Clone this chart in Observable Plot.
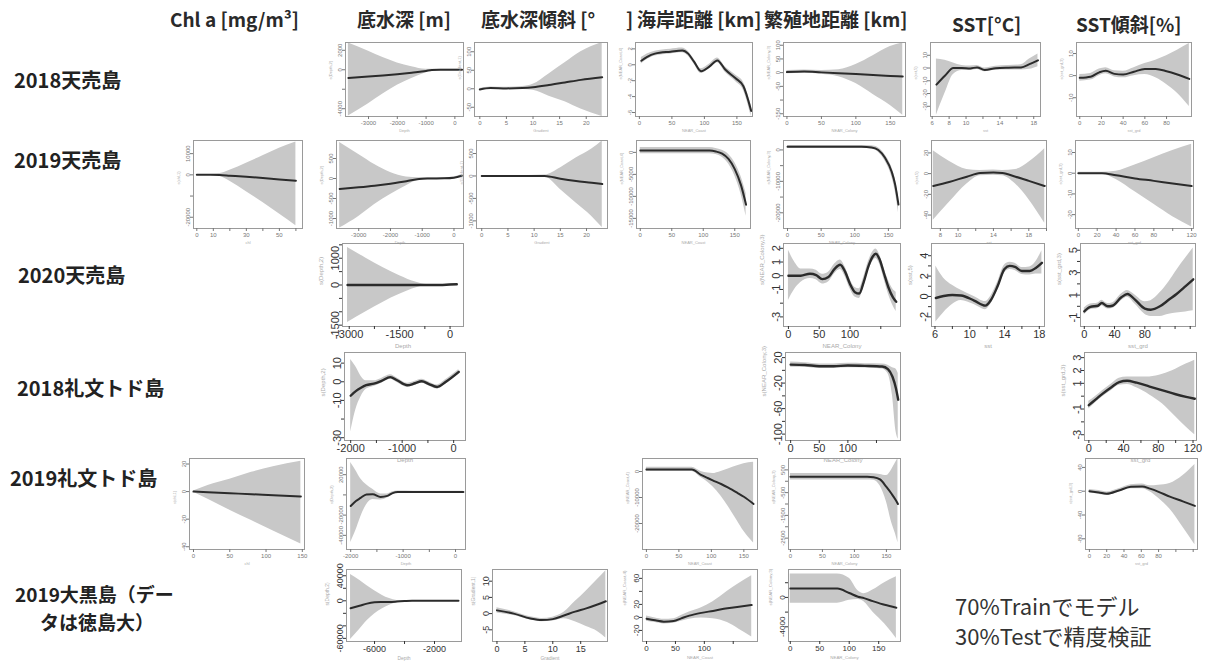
<!DOCTYPE html>
<html><head><meta charset="utf-8">
<script src="https://cdn.jsdelivr.net/npm/d3@7"></script>
<script src="https://cdn.jsdelivr.net/npm/@observablehq/plot@0.6"></script>
<style>
body{margin:0;background:#fff;}
#root{position:relative;width:1205px;height:662px;overflow:hidden;background:#fff;font-family:"Noto Sans CJK JP","Noto Sans",sans-serif;}
.t{position:absolute;white-space:nowrap;color:#222;line-height:1;}
.col{font-size:19px;font-weight:600;color:#2a2a2a;}
.row{font-size:20px;font-weight:700;}
.row2{font-size:19px;font-weight:700;}
.note{font-size:22px;color:#333;font-weight:400;}
</style></head><body><div id="root"></div>
<script>
// ---------- data: rows are [x, fit, lower, upper] ----------
const t18_depth = [[-3700,-850,-4750,2750],[-3000,-700,-3500,1900],[-2500,-580,-2500,1250],[-2000,-450,-1600,700],[-1500,-300,-900,300],[-1000,-130,-300,40],[-800,-20,-80,40],[-500,0,-40,40],[0,0,-40,40],[250,10,-40,60]];
const t18_slope = [[0,-2,-5,1],[2,2,-1,5],[5,1,-2,4],[8,2,-2,6],[10,4,-4,12],[13,10,-20,40],[16,17,-35,70],[19,24,-55,100],[23,31,-75,125]];
const t18_coast = [[3,0.5,0.1,0.9],[12,1.0,0.65,1.35],[24,1.4,1.1,1.7],[48,1.65,1.35,1.95],[66,1.8,1.5,2.1],[75,1.4,1.1,1.7],[84,0.4,0.1,0.7],[95,-0.8,-1.1,-0.5],[108,-0.2,-0.5,0.1],[120,0.55,0.25,0.85],[132,-0.6,-0.95,-0.25],[148,-1.7,-2.1,-1.3],[160,-2.7,-3.2,-2.2],[172,-5.8,-6.5,-5.1]];
const t18_colony = [[0,2,-4,8],[25,4,-2,10],[50,1,-6,8],[75,-2,-15,11],[100,-5,-40,30],[125,-9,-80,62],[150,-12,-120,95],[168,-14,-155,108]];
const t18_sst = [[6.5,-13,-37,7],[7.5,-6,-20,6],[8.5,0,-5,4],[9.5,0,-2,2],[10.5,-0.3,-2,1.5],[11.3,0.5,-1.2,2],[12.2,-1.5,-3,0],[13.5,-0.2,-1.8,1.4],[15,0.3,-1.5,2],[16.5,0.5,-1.5,2.5],[17.5,3,-1,7],[18.5,6,1,11]];
const t18_sstg = [[0,-1,-2.5,0.5],[10,-0.5,-2,1],[18,1.5,0,3],[24,2.2,0.8,3.6],[32,0.8,-0.6,2.2],[40,0.5,-1,2],[50,1.8,0,3.6],[60,3,0.5,5.5],[70,3,-1,7],[80,2,-4,9],[90,0.5,-8,11.5],[101,-1.5,-14,14.5]];

const t19_chl = [[0,0,-150,150],[8,0,-200,200],[14,-100,-800,600],[20,-400,-3000,2200],[30,-900,-8000,5500],[40,-1500,-13000,9000],[50,-2200,-18500,12500],[60,-2800,-24000,15500]];
const t19_depth = [[-3600,-260,-1240,900],[-3000,-220,-950,600],[-2500,-180,-650,350],[-2000,-130,-400,150],[-1500,-70,-180,40],[-1100,-10,-40,20],[-800,0,-20,20],[-300,5,-15,25],[0,20,0,40],[250,70,40,100]];
const t19_slope = [[0,0,-10,10],[5,-3,-12,6],[9,2,-8,12],[12,0,-20,20],[15,-60,-300,180],[18,-110,-600,400],[21,-150,-900,600],[23,-180,-1150,780]];
const t19_coast = [[0,400,-300,1100],[40,400,-300,1100],[80,400,-300,1100],[110,400,-300,1100],[120,200,-500,900],[130,-300,-1100,500],[140,-1500,-2600,-400],[150,-3800,-5300,-2300],[160,-7500,-9500,-5500],[168,-11900,-14500,-9300]];
const t19_colony = [[0,1000,600,1400],[60,1000,600,1400],[110,1000,600,1400],[125,800,300,1300],[135,0,-700,700],[145,-2500,-3500,-1500],[155,-7000,-8500,-5500],[160,-11000,-13000,-9000],[165,-17400,-20000,-14800]];
const t19_sst = [[7.2,-12,-45,22],[9,-8,-28,12],[11,-3,-10,4],[12.5,0.5,-2,3],[14,1,-1.5,3.5],[15,0.5,-2,3],[16.5,-3,-10,4],[18,-7,-25,11],[19.8,-12,-48,24]];
const t19_sstg = [[0,0,-0.5,0.5],[25,0,-0.5,0.5],[40,-1,-3,1],[60,-2.5,-9,4],[80,-3.7,-15,7.5],[100,-5,-21,11],[120,-6.2,-26,14]];

const t20_depth = [[-3050,0,-1400,1400],[-2500,0,-1000,1000],[-2000,0,-650,650],[-1500,0,-350,350],[-1000,0,-100,100],[-700,0,-20,20],[-300,0,-15,15],[0,20,0,40],[200,30,10,50]];
const t20_colony = [[0,0,-1.8,1.85],[10,0,-1.0,1.0],[20,0,-0.5,0.5],[35,0.15,-0.2,0.5],[45,0.05,-0.3,0.4],[55,-0.25,-0.6,0.1],[65,-0.1,-0.45,0.25],[75,0.5,0.15,0.85],[84,0.8,0.45,1.15],[92,0.3,-0.05,0.65],[100,-0.6,-0.95,-0.25],[108,-1.2,-1.55,-0.85],[115,-1.3,-1.65,-0.95],[122,-0.5,-0.85,-0.15],[130,0.7,0.35,1.05],[137,1.4,1.05,1.75],[142,1.6,1.25,1.95],[148,1.2,0.85,1.55],[155,0.2,-0.2,0.6],[162,-0.8,-1.3,-0.3],[170,-1.6,-2.2,-1.0],[175,-1.9,-2.6,-1.2]];
const t20_sst = [[6.1,-0.15,-2.5,3.0],[7,0.05,-1.6,1.8],[8,0.15,-0.8,1.1],[9,0.1,-0.4,0.6],[10.5,-0.4,-0.8,0],[11.8,-0.9,-1.3,-0.5],[12.4,-0.4,-0.8,0],[13.2,1.0,0.6,1.4],[14,2.7,2.3,3.1],[14.6,3.0,2.65,3.35],[15.2,2.9,2.55,3.25],[16,2.5,2.15,2.85],[16.9,2.5,2.1,2.9],[17.6,2.8,2.2,3.4],[18.3,3.3,2.2,4.5]];
const t20_sstg = [[0,-0.45,-0.75,-0.15],[8,-0.05,-0.3,0.2],[18,0.05,-0.2,0.3],[23,0.3,0.05,0.55],[31,0,-0.25,0.25],[37,0.05,-0.2,0.3],[49,0.8,0.5,1.1],[57,1.1,0.8,1.4],[67,0.6,0.2,1.0],[80,-0.2,-0.7,0.4],[88,-0.3,-0.9,0.5],[100,0,-0.9,1.2],[112,0.6,-0.7,2.2],[122,1.1,-0.6,3.2],[134,1.8,-0.5,4.3],[144,2.4,-0.4,5.2]];

const r18_depth = [[-2000,-7.5,-27,12],[-1900,-5,-15,8],[-1800,-3.2,-8,3],[-1700,-1.8,-4,0.5],[-1550,-1,-2.5,0.5],[-1400,0.5,-0.8,1.8],[-1230,2.5,1.3,3.7],[-1100,0.8,-0.4,2],[-900,-1.9,-3,-0.8],[-750,-0.8,-1.9,0.3],[-620,0.3,-0.8,1.4],[-480,-1.2,-2.3,-0.1],[-320,-2.8,-3.9,-1.7],[-150,0,-1.2,1.2],[100,5.3,4,6.6]];
const r18_colony = [[0,9,5,13],[25,8.5,5,12],[50,6.5,3,10],[75,6.5,3,10],[100,7.5,4,11],[130,7,3.5,10.5],[160,6,2,10],[170,2,-5,8],[178,-10,-40,4],[184,-28,-95,2],[188,-46,-108,-5]];
const r18_sstg = [[0,-0.7,-1.0,-0.4],[8,-0.25,-0.5,0],[16,0.2,-0.05,0.45],[26,0.7,0.45,0.95],[35,1.1,0.85,1.4],[44,1.2,0.9,1.5],[55,1.05,0.65,1.5],[70,0.75,0.1,1.5],[85,0.45,-0.6,1.7],[100,0.15,-1.6,2.1],[112,-0.05,-2.4,2.5],[122,-0.2,-3.0,2.8]];

const r19_chl = [[0,0,-0.5,0.5],[20,-0.5,-5.5,4.5],[50,-1.2,-13.5,9],[80,-1.9,-21,14],[110,-2.7,-28.5,18],[148,-3.6,-38,22]];
const r19_depth = [[-2000,-11000,-47000,32000],[-1900,-6000,-35000,24000],[-1810,-3000,-22000,16000],[-1700,500,-10000,10000],[-1580,700,-4500,5500],[-1430,-2000,-5000,1000],[-1300,-1000,-3000,1000],[-1200,1800,500,3100],[-1100,2800,1800,3800],[-800,2800,1900,3700],[-400,2800,1900,3700],[0,2800,1900,3700],[150,2800,1900,3700]];
const r19_coast = [[0,800,0,1600],[40,800,0,1600],[70,800,0,1600],[84,-1300,-2300,0],[95,-2600,-4200,-600],[102,-3400,-5800,-800],[115,-4800,-9500,0],[126,-6200,-13500,1000],[140,-8200,-19000,2200],[150,-9700,-23000,3000],[165,-12500,-27500,3600]];
const r19_colony = [[0,200,60,340],[60,200,60,340],[120,200,60,340],[130,180,40,330],[140,80,-200,300],[150,-250,-900,250],[158,-550,-1800,500],[164,-800,-2300,800],[168,-1000,-2700,1000]];
const r19_sstg = [[0,0,-3,3],[11,-2,-5,1],[20,-4.3,-7.3,-1.3],[34,1.2,-1.8,4.2],[48,7.4,4,10.8],[61,8,4,12],[70,4.3,-1,9],[80,-1,-12,10],[93,-9.2,-30,13],[108,-17,-60,26],[122,-24.6,-90,45]];

const o19_depth = [[-7600,-12000,-62000,42000],[-7000,-8000,-46000,33000],[-6500,-4500,-32000,24000],[-6000,-2500,-21000,16000],[-5500,-2000,-13000,9000],[-5000,-1800,-7000,3500],[-4500,-1200,-3000,600],[-4000,-500,-1000,0],[-3500,0,-400,400],[-2500,0,-400,400],[-1000,0,-400,400],[-400,0,-400,400]];
const o19_slope = [[0,1,0.2,1.8],[3,0,-0.6,0.6],[6,-1.5,-2,-1],[8,-2,-2.5,-1.5],[10,-1.7,-2.3,-1.1],[12,-0.6,-1.6,0.4],[14,0.6,-2.5,3.7],[16,1.6,-4,7],[18,2.8,-5.5,10.5],[19.5,3.8,-7.5,13.2]];
const o19_coast = [[0,-2,-6,2],[15,-4.5,-8,-1],[30,-6.5,-10,-3],[47,-5.5,-9,-2],[60,-1.5,-6,3],[74,2.7,-3,8.5],[95,7,-1,15],[115,10,-2,24],[140,14,-8,40],[160,16.5,-18,52],[182,19,-30,64]];
const o19_colony = [[0,1200,-800,3200],[40,1200,-800,3200],[80,1200,-800,3200],[100,600,-400,2600],[115,100,-300,900],[125,-100,-600,500],[140,-500,-2000,1000],[160,-1000,-3600,2000],[180,-1400,-5600,2800]];

// ---------- text ----------
const colTitles = [
  ["Chl a [mg/m³]",170,9],["底水深 [m]",357,9],["底水深傾斜 [°",481,9],["]",626,9],
  ["海岸距離 [km]",637,9],["繁殖地距離 [km]",764,9],["SST[°C]",952,14],["SST傾斜[%]",1076,14]
];
const rowTitles = [
  ["2018天売島",14,70],["2019天売島",14,150],["2020天売島",18,265],["2018礼文トド島",17,378],
  ["2019礼文トド島",10,468]
];
const rowTitles2 = [["2019大黒島（デー",15,584],["タは徳島大）",40,612]];
const notes = [["70%Trainでモデル",955,594],["30%Testで精度検証",955,624]];

// variable names (axis titles)
const VAR = {
  chl:["chl","s(chl,1)"], depth:["Depth","s(Depth,2)"], slope:["Gradient","s(Gradient,1)"],
  coast:["NEAR_Coast","s(NEAR_Coast,4)"], colony:["NEAR_Colony","s(NEAR_Colony,3)"],
  sst:["sst","s(sst,5)"], sstg:["sst_grd","s(sst_grd,3)"]
};

// ---------- panel layout ----------
const R1=[42,116], R2=[140,228], R3=[243,326], R4=[352,440], R5=[458,549], R6=[569,641];
const panels = [
  {d:t18_depth, v:"depth", x:[345,463], y:R1, fs:6, xd:[-3800,300], yd:[-4800,2800], xt:[-3000,-2000,-1000,0], yt:[2000,0,-2000,-4000], yl:[2000,0,-4000]},
  {d:t18_slope, v:"slope", x:[474,607], y:R1, fs:6, xd:[-1,24], yd:[-75,125], xt:[0,5,10,15,20], yt:[100,50,0,-50]},
  {d:t18_coast, v:"coast", x:[635,752], y:R1, fs:6, xd:[-6,174], yd:[-6.5,2.8], xt:[0,50,100,150], yt:[2,0,-2,-4,-6]},
  {d:t18_colony, v:"colony", x:[783,905], y:R1, fs:6, xd:[-5,172], yd:[-160,110], xt:[0,50,100,150], yt:[100,50,0,-50,-100,-150], yl:[100,50,0,-50,-150]},
  {d:t18_sst, v:"sst", x:[930,1040], y:R1, fs:6, xd:[5.8,18.8], yd:[-38,20], xt:[6,8,10,12,14,16,18], xl:[6,8,10,14,18], yt:[10,0,-10,-20,-30]},
  {d:t18_sstg, v:"sstg", x:[1076,1191], y:R1, fs:6, xd:[-3,103], yd:[-18.5,15], xt:[0,20,40,60,80], yt:[10,0,-10]},

  {d:t19_chl, v:"chl", x:[193,302], y:R2, fs:6, xd:[-2,64], yd:[-25300,16200], xt:[0,10,20,30,40,50,60], xl:[0,10,30,50], yt:[10000,0,-10000,-20000], yl:[10000,0,-20000]},
  {d:t19_depth, v:"depth", x:[336,463], y:R2, fs:6, xd:[-3700,300], yd:[-1250,950], xt:[-3000,-2000,-1000,0], yt:[500,0,-500,-1000]},
  {d:t19_slope, v:"slope", x:[476,607], y:R2, fs:6, xd:[-1,24], yd:[-1170,790], xt:[0,5,10,15,20], yt:[500,0,-500,-1000]},
  {d:t19_coast, v:"coast", x:[636,750], y:R2, fs:6, xd:[-6,175], yd:[-17300,2700], xt:[0,50,100,150], yt:[0,-5000,-10000,-15000]},
  {d:t19_colony, v:"colony", x:[783,900], y:R2, fs:6, xd:[-6,168], yd:[-25000,3000], xt:[0,50,100,150], yt:[0,-5000,-10000,-15000,-20000], yl:[0,-10000,-20000]},
  {d:t19_sst, v:"sst", x:[931,1046], y:R2, fs:6, xd:[7,20], yd:[-53,32], xt:[8,10,12,14,16,18,20], xl:[8,10,14,18], yt:[20,0,-20,-40]},
  {d:t19_sstg, v:"sstg", x:[1075,1193], y:R2, fs:6, xd:[-3,122], yd:[-26.7,15.8], xt:[0,20,40,60,80,100,120], xl:[0,20,40,60,80,120], yt:[10,0,-10,-20]},

  {d:t20_depth, v:"depth", x:[342,463], y:R3, fs:11, xd:[-3200,400], yd:[-1550,1550], xt:[-3000,-2250,-1500,-750,0], xl:[-3000,-1500,0], yt:[1500,1000,500,0,-500,-1000,-1500], yl:[1000,0,-1500]},
  {d:t20_colony, v:"colony", x:[783,900], y:R3, fs:11, xd:[-8,182], yd:[-3.7,2.35], xt:[0,50,100,150], xl:[0,50,100], yt:[2,1,0,-1,-2,-3], yl:[2,1,0,-1,-3]},
  {d:t20_sst, v:"sst", x:[931,1044], y:R3, fs:11, xd:[5.6,18.6], yd:[-2.95,5.2], xt:[6,8,10,12,14,16,18], xl:[6,10,14,18], yt:[4,3,2,1,0,-1,-2], yl:[4,2,0,-2]},
  {d:t20_sstg, v:"sstg", x:[1080,1195], y:R3, fs:11, xd:[-5,147], yd:[-1.8,5.6], xt:[0,20,40,60,80,100,120,140], xl:[0,40,80], yt:[5,4,3,2,1,0,-1], yl:[5,3,1,-1]},

  {d:r18_depth, v:"depth", x:[344,465], y:R4, fs:11, xd:[-2120,230], yd:[-31.5,15.7], xt:[-2000,-1500,-1000,-500,0], xl:[-2000,-1000,0], yt:[10,0,-10,-20,-30], yl:[10,0,-10,-30]},
  {d:r18_colony, v:"colony", x:[785,900], y:R4, fs:11, xd:[-9,192], yd:[-110,28], xt:[0,50,100,150], xl:[0,50,100], yt:[20,0,-20,-40,-60,-80,-100], yl:[20,-20,-60,-100]},
  {d:r18_sstg, v:"sstg", x:[1084,1196], y:R4, fs:11, xd:[-5,124], yd:[-3.45,3.4], xt:[0,20,40,60,80,100,120], xl:[0,40,80,120], yt:[3,2,1,0,-1,-2,-3], yl:[3,2,1,-1,-3]},

  {d:r19_chl, v:"chl", x:[189,304], y:R5, fs:6, xd:[-5.5,153], yd:[-42,24], xt:[0,50,100,150], yt:[20,0,-20,-40]},
  {d:r19_depth, v:"depth", x:[346,465], y:R5, fs:6, xd:[-2080,190], yd:[-54000,36000], xt:[-2000,-1500,-1000,-500,0], xl:[-2000,-1000,0], yt:[20000,0,-20000,-40000], yl:[20000,-20000,-40000]},
  {d:r19_coast, v:"coast", x:[642,757], y:R5, fs:6, xd:[-6,171], yd:[-30000,5000], xt:[0,50,100,150], yt:[0,-10000,-20000]},
  {d:r19_colony, v:"colony", x:[788,900], y:R5, fs:6, xd:[-3,172], yd:[-3000,1000], xt:[0,50,100,150], yt:[500,0,-500,-1000,-1500,-2000,-2500], yl:[500,-500,-1500,-2500]},
  {d:r19_sstg, v:"sstg", x:[1085,1197], y:R5, fs:6, xd:[-4.5,125], yd:[-98,55], xt:[0,20,40,60,80,100,120], xl:[0,20,40,60,80], yt:[40,0,-40,-80]},

  {d:o19_depth, v:"depth", x:[346,461], y:R6, fs:9, xd:[-7870,-200], yd:[-65000,50000], xt:[-6000,-4000,-2000], xl:[-6000,-2000], yt:[40000,20000,0,-20000,-40000,-60000], yl:[40000,0,-60000]},
  {d:o19_slope, v:"slope", x:[492,607], y:R6, fs:9, xd:[-0.8,19.8], yd:[-8.6,13.6], xt:[0,5,10,15], yt:[10,5,0,-5]},
  {d:o19_coast, v:"coast", x:[642,757], y:R6, fs:8, xd:[-7,192], yd:[-37,73.6], xt:[0,50,100,150], xl:[0,50,100], yt:[60,40,20,0,-20], yl:[60,20,0,-20]},
  {d:o19_colony, v:"colony", x:[788,900], y:R6, fs:8, xd:[-3,187], yd:[-6000,3800], xt:[0,50,100,150], yt:[2000,0,-2000,-4000], yl:[0,-4000]}
];

// ---------- render ----------
const root = document.getElementById("root");
function addText(list, cls){
  for (const [s,x,y] of list){
    const el = document.createElement("div");
    el.className = "t " + cls; el.textContent = s;
    el.style.left = x + "px"; el.style.top = y + "px";
    root.appendChild(el);
  }
}
addText(colTitles, "col");
addText(rowTitles, "row");
addText(rowTitles2, "row2");
addText(notes, "note");

const fmt = d => String(d);
function panel(s){
  const fs = s.fs;
  const col = fs >= 8 ? "#333" : "#777";
  const ml = Math.round(fs * 1.2 + 12), mb = Math.round(fs * 1.2 + 12), mt = 1, mr = 1;
  const w = s.x[1] - s.x[0], h = s.y[1] - s.y[0];
  const data = s.d.map(r => ({x: r[0], f: r[1], lo: r[2], hi: r[3]}));
  const lab = list => d => list.includes(d) ? fmt(d) : "";
  const [xn, yn] = VAR[s.v];
  const tfs = Math.max(4, fs * 0.55);
  const svg = Plot.plot({
    width: w + ml + mr, height: h + mt + mb,
    marginLeft: ml, marginRight: mr, marginTop: mt, marginBottom: mb,
    style: {fontFamily: "'Liberation Sans', Arial, sans-serif", fontSize: fs + "px", color: col, background: "transparent", overflow: "visible"},
    x: {domain: s.xd, label: null},
    y: {domain: s.yd, label: null},
    marks: [
      Plot.areaY(data, {x: "x", y1: "lo", y2: "hi", fill: "#c8c8c8", curve: "monotone-x", clip: true}),
      Plot.lineY(data, {x: "x", y: "f", stroke: "#2b2b2b", strokeWidth: fs >= 10 ? 2.4 : 2, curve: "monotone-x", clip: true}),
      Plot.frame({stroke: "#9a9a9a"}),
      Plot.axisX(s.xt, {tickFormat: lab(s.xl ?? s.xt), tickSize: 3, tickPadding: 1, fontSize: fs, label: null}),
      Plot.axisY(s.yt, {tickFormat: lab(s.yl ?? s.yt), tickSize: 3, tickPadding: 1, tickRotate: -90, fontSize: fs, label: null}),
      Plot.text([xn], {text: d => d, frameAnchor: "bottom", dy: fs * 1.2 + 8, fontSize: tfs, fill: "#aaa"}),
      Plot.text([yn], {text: d => d, frameAnchor: "left", dx: -(fs * 1.2 + 8), rotate: -90, fontSize: tfs, fill: "#aaa"})
    ]
  });
  svg.style.position = "absolute";
  svg.style.left = (s.x[0] - ml) + "px";
  svg.style.top = (s.y[0] - mt) + "px";
  root.appendChild(svg);
}
panels.forEach(panel);
</script></body></html>
